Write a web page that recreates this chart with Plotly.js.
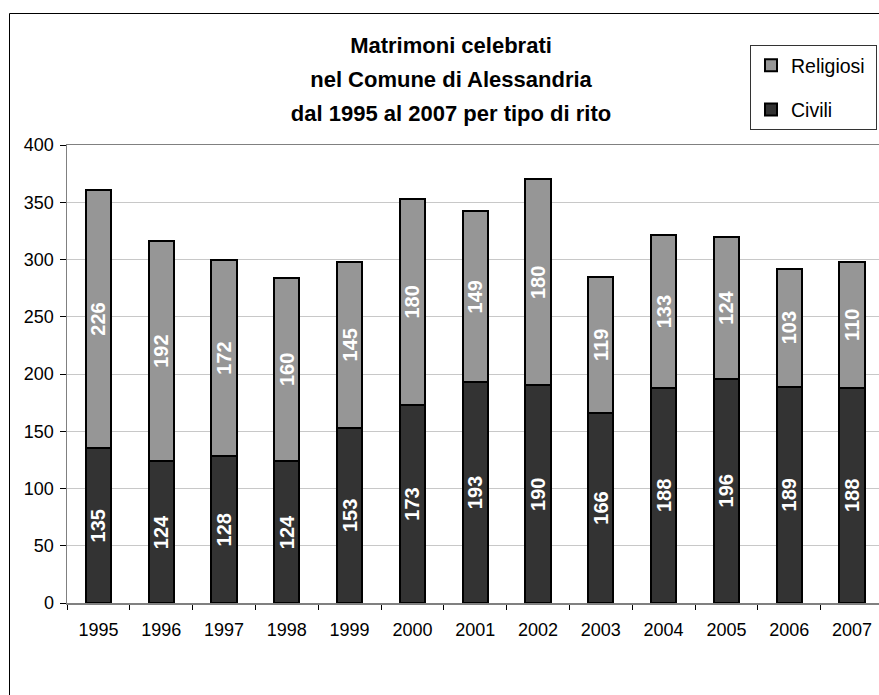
<!DOCTYPE html>
<html>
<head>
<meta charset="utf-8">
<script src="https://cdn.plot.ly/plotly-3.0.1.min.js"></script>
<style>html,body{margin:0;padding:0;background:#fff;}#chart{width:879px;height:695px;}</style>
</head>
<body>
<div id="chart"></div>
<script>
const years = ['1995','1996','1997','1998','1999','2000','2001','2002','2003','2004','2005','2006','2007'];
const civili = [135,124,128,124,153,173,193,190,166,188,196,189,188];
const religiosi = [226,192,172,160,145,180,149,180,119,133,124,103,110];
const titleLines = ['Matrimoni celebrati','nel Comune di Alessandria','dal 1995 al 2007 per tipo di rito'];
const seriesNames = ['Civili','Religiosi'];

const FONT = 'Liberation Sans, Arial, Helvetica, sans-serif';
const W = 879, H = 695;
const ML = 67, MR = 0, MT = 145, MB = 92;
const plotW = W - ML - MR, plotH = H - MT - MB;
const px2x = p => (p - ML) / plotW;
const px2y = p => (H - MB - p) / plotH;
const PAD = '\u00a0';

const common = {
  type: 'bar',
  x: years,
  width: 0.4,
  textposition: 'inside',
  insidetextanchor: 'middle',
  textangle: -90,
  constraintext: 'none',
  insidetextfont: {family: FONT, size: 20, color: '#ffffff', weight: 'bold'},
  hoverinfo: 'x+y+name'
};

const traces = [
  Object.assign({}, common, {
    name: seriesNames[0] + PAD, y: civili, text: civili.map(String),
    marker: {color: '#333333', line: {color: '#000000', width: 2}},
    legendgroup: 'c', legendrank: 2
  }),
  Object.assign({}, common, {
    name: seriesNames[1] + PAD, y: religiosi, text: religiosi.map(String),
    marker: {color: '#969696', line: {color: '#000000', width: 2}},
    legendgroup: 'r', legendrank: 1
  })
];

const layout = {
  width: W, height: H,
  margin: {l: ML, r: MR, t: MT, b: MB, pad: 0},
  paper_bgcolor: '#ffffff',
  plot_bgcolor: '#ffffff',
  barmode: 'stack',
  font: {family: FONT, size: 18, color: '#000000'},
  title: {
    text: titleLines.map(s => '<span style="font-size:22px">' + s + '</span>').join('<br>'),
    font: {family: FONT, size: 26, color: '#000000', weight: 'bold'},
    xref: 'container', yref: 'container',
    x: 451 / W, xanchor: 'center',
    y: 1 - 53 / H, yanchor: 'top'
  },
  xaxis: {
    type: 'category',
    range: [-0.5, 12.43],
    showline: true, linecolor: '#808080', linewidth: 1.5, mirror: true,
    ticks: 'outside', tickson: 'boundaries', ticklen: 5, tickcolor: '#000000', tickwidth: 1,
    showgrid: false, zeroline: false,
    tickfont: {family: FONT, size: 18, color: '#000000'},
    ticklabelstandoff: 10,
    fixedrange: true
  },
  yaxis: {
    range: [0, 400], dtick: 50, tick0: 0,
    showline: true, linecolor: '#808080', linewidth: 1.5,
    ticks: 'outside', ticklen: 6, tickcolor: '#000000', tickwidth: 1,
    showgrid: true, gridcolor: '#c8c8c8', gridwidth: 1,
    zeroline: false,
    tickfont: {family: FONT, size: 18, color: '#000000'},
    ticklabelstandoff: 2,
    fixedrange: true
  },
  legend: {
    x: px2x(877), y: px2y(45), xanchor: 'right', yanchor: 'top',
    bgcolor: '#ffffff', bordercolor: '#333333', borderwidth: 1,
    font: {family: FONT, size: 19.5, color: '#000000'},
    traceorder: 'grouped',
    tracegroupgap: 16,
    itemclick: false, itemdoubleclick: false
  },
  shapes: [{
    type: 'rect', xref: 'paper', yref: 'paper',
    x0: px2x(9.5), x1: px2x(890), y0: px2y(710), y1: px2y(13.5),
    line: {color: '#000000', width: 1}, fillcolor: 'rgba(0,0,0,0)', layer: 'below'
  }],
  showlegend: true
};

Plotly.newPlot('chart', traces, layout, {displayModeBar: false, staticPlot: true});
</script>
</body>
</html>
